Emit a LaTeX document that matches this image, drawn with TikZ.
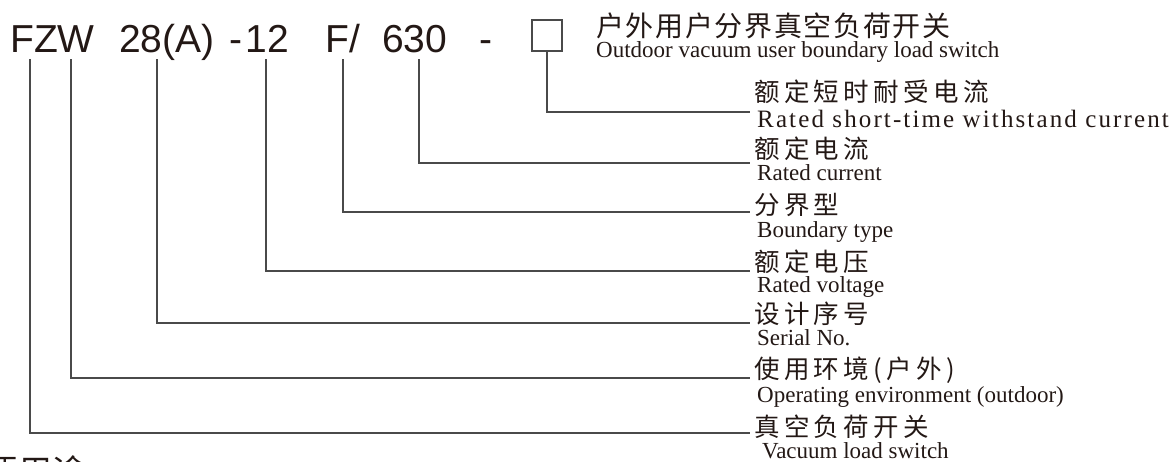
\documentclass[tikz,border=0pt]{standalone}
\usepackage{fontspec}
\setmainfont{Liberation Serif}
\newfontfamily\codefont{Liberation Sans}
\newfontfamily\cjk{Noto Sans CJK SC}
\newfontfamily\cjkwide{Noto Sans CJK SC}[LetterSpace=17]
\newfontfamily\cjktop{Noto Sans CJK SC}[LetterSpace=6]
\newfontfamily\serifwide{Liberation Serif}[LetterSpace=8.5]
\definecolor{ink}{HTML}{231815}
\definecolor{linec}{HTML}{4A4A4A}
\tikzset{
  code/.style={anchor=base west, inner sep=0pt, text=ink, font=\codefont\fontsize{39}{39}\selectfont},
  cn/.style={anchor=base west, inner sep=0pt, text=ink, font=\cjkwide\fontsize{25.5}{25.5}\selectfont},
  en/.style={anchor=base west, inner sep=0pt, text=ink, font=\fontsize{23}{23}\selectfont},
  lead/.style={draw=linec, line width=1.5pt},
  boxsym/.style={draw=linec, line width=1.3pt, minimum width=30pt, minimum height=31pt, inner sep=0pt}
}
\begin{document}
\begin{tikzpicture}[x=1pt,y=-1pt]
\useasboundingbox (0,0) rectangle (1173,461);
% model code
\node[code] (fzw) at (10,52.5) {FZW};
\node[code] (n28) at (119,52.5) {28(A)};
\node[code] (d1) at (229,52.5) {-};
\node[code] (n12) at (245.5,52.5) {12};
\node[code] (f) at (325,52.5) {F/};
\node[code] (n630) at (382,52.5) {630};
\node[code] (d2) at (479,52.5) {-};
\node[boxsym] (box) at (547,35.5) {};
% title
\node[anchor=base west, inner sep=0pt, text=ink, font=\cjktop\fontsize{28}{28}\selectfont] (title) at (596,36) {户外用户分界真空负荷开关};
\node[en] (titleen) at (596,57) {Outdoor vacuum user boundary load switch};
% leader starts
\coordinate (s1) at (30,59);
\coordinate (s2) at (71,59);
\coordinate (s3) at (157,59);
\coordinate (s4) at (266,59);
\coordinate (s5) at (343,59);
\coordinate (s6) at (419,59);
% leader ends
\coordinate (e1) at (750,433);
\coordinate (e2) at (750,378);
\coordinate (e3) at (750,323);
\coordinate (e4) at (750,271);
\coordinate (e5) at (750,212);
\coordinate (e6) at (750,163);
\coordinate (e7) at (750,112);
\draw[lead] (s1) |- (e1);
\draw[lead] (s2) |- (e2);
\draw[lead] (s3) |- (e3);
\draw[lead] (s4) |- (e4);
\draw[lead] (s5) |- (e5);
\draw[lead] (s6) |- (e6);
\draw[lead] (box.south) |- (e7);
% labels
\node[cn] (c7) at (754,101) {额定短时耐受电流};
\node[anchor=base west, inner sep=0pt, text=ink, font=\serifwide\fontsize{25}{25}\selectfont] (l7) at (757,127) {Rated short-time withstand current};
\node[cn] (c6) at (754,158) {额定电流};
\node[en] (l6) at (757,180) {Rated current};
\node[cn] (c5) at (754,214) {分界型};
\node[en] (l5) at (757,237) {Boundary type};
\node[cn] (c4) at (754,271) {额定电压};
\node[en] (l4) at (757,292) {Rated voltage};
\node[cn] (c3) at (754,323) {设计序号};
\node[en] (l3) at (757,345) {Serial No.};
\node[cn] (c2) at (754,378) {使用环境(户外)};
\node[en] (l2) at (757,402) {Operating environment (outdoor)};
\node[cn] (c1) at (754,436) {真空负荷开关};
\node[en] (l1) at (762,458) {Vacuum load switch};
% heading cut off by the lower edge, as in the reference
\node[anchor=base west, inner sep=0pt, text=ink, font=\cjk\fontsize{34}{34}\selectfont] (head) at (-16,484) {要用途};
\end{tikzpicture}
\end{document}
